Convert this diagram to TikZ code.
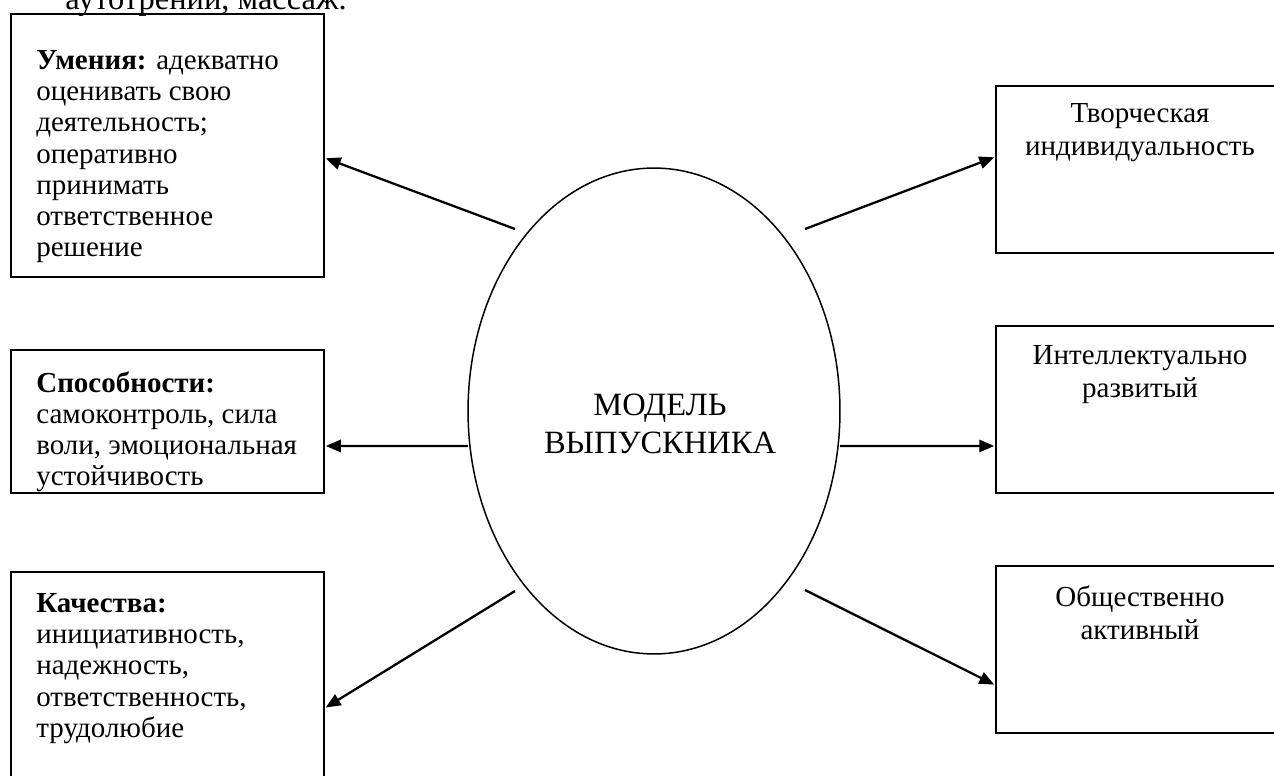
\documentclass[tikz,border=0pt]{standalone}
\usepackage{fontspec}
\setmainfont{Liberation Serif}
\usetikzlibrary{arrows.meta,shapes.geometric,positioning}

\tikzset{
  box/.style={draw, line width=1.1pt, minimum width=6.26cm, inner sep=0pt},
  rbox/.style={draw, line width=1.1pt, minimum width=5.76cm, minimum height=3.34cm, inner sep=0pt},
  lefttext/.style={align=left, inner sep=0pt, anchor=north west, font=\fontsize{16.5}{17.8}\selectfont},
  righttext/.style={align=center, inner sep=0pt, anchor=north, font=\fontsize{16.5}{19}\selectfont},
  arr/.style={->, line width=1.3pt, shorten >=0.5pt},
}

\begin{document}
\begin{tikzpicture}[>={Triangle[length=8.5pt,width=7pt]}, x=0.02cm, y=-0.02cm]
  % Fix the frame
  \useasboundingbox (0,0) rectangle (1274,776);
  \clip (0,0) rectangle (1274,776);

  % Draw the cut line of the page above
  \node[inner sep=0pt, anchor=base west, font=\fontsize{18.5}{21}\selectfont] (page) at (65,10) {аутотрений, массаж.};

  % Draw the model ellipse
  \node[draw, ellipse, line width=0.85pt, minimum width=7.44cm, minimum height=9.72cm, inner sep=0pt] (model) at (654,411) {};
  \node[align=center, inner sep=0pt, anchor=north, font=\fontsize{18.5}{21.5}\selectfont] (modeltxt) at (660,393.5) {МОДЕЛЬ\\ВЫПУСКНИКА};

  % Draw the left boxes
  \node[box, minimum height=5.26cm] (umen) at (167.5,145.5) {};
  \node[box, minimum height=2.86cm] (spos) at (167.5,421.5) {};
  \node[box, minimum height=4.76cm] (kach) at (167.5,691) {};

  \node[lefttext] (umentxt) at (36,50) {\textbf{Умения:} адекватно\\оценивать свою\\деятельность;\\оперативно\\принимать\\ответственное\\решение};
  \node[lefttext] (spostxt) at (36,371) {\textbf{Способности:}\\самоконтроль, сила\\воли, эмоциональная\\устойчивость};
  \node[lefttext] (kachtxt) at (36,593) {\textbf{Качества:}\\инициативность,\\надежность,\\ответственность,\\трудолюбие};

  % Draw the right boxes
  \node[rbox] (tvor) at (1140,169.5) {};
  \node[rbox] (intel) at (1140,409.5) {};
  \node[rbox] (obsh) at (1140,649.5) {};

  \node[righttext] (tvortxt) at (1140,103) {Творческая\\индивидуальность};
  \node[righttext] (inteltxt) at (1140,345) {Интеллектуально\\развитый};
  \node[righttext] (obshtxt) at (1140,585) {Общественно\\активный};

  % Draw the arrows
  \coordinate (s1) at (515,229);
  \coordinate (s2) at (468,446);
  \coordinate (s3) at (515,591);
  \coordinate (s4) at (805,229);
  \coordinate (s5) at (840,446);
  \coordinate (s6) at (805,590);

  \draw[arr] (s1) -- ([yshift=-0.25cm]umen.east);
  \draw[arr] (s2) -- ([yshift=-0.49cm]spos.east);
  \draw[arr] (s3) -- ([yshift=-0.34cm]kach.east);
  \draw[arr] (s4) -- ([yshift=0.25cm]tvor.west);
  \draw[arr] (s5) -- ([yshift=-0.73cm]intel.west);
  \draw[arr] (s6) -- ([yshift=-0.71cm]obsh.west);

\end{tikzpicture}
\end{document}
